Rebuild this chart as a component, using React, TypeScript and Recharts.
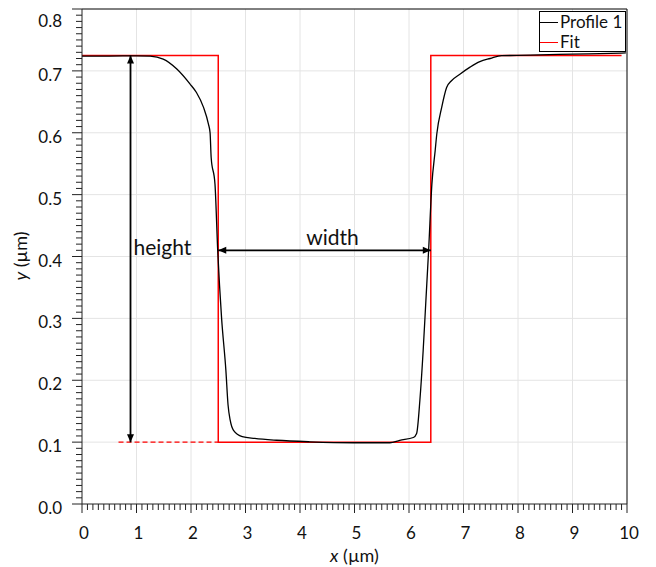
import React from 'react';
import {
  LineChart,
  Line,
  XAxis,
  YAxis,
  CartesianGrid,
  ReferenceLine,
  Legend,
} from 'recharts';

// profile (x in µm, y in µm)
const profileX = [
  0, 0.5, 1.0, 1.25, 1.49, 1.74, 1.98, 2.1, 2.23, 2.32, 2.35, 2.37, 2.44, 2.49, 2.56,
  2.64, 2.68, 2.72, 2.78, 2.94, 3.17, 3.57, 4.18, 4.98, 5.65, 5.83, 6.08, 6.14, 6.2,
  6.26, 6.31, 6.36, 6.42, 6.48, 6.51, 6.6, 6.69, 6.78, 6.94, 7.12, 7.3, 7.49, 7.7,
  7.98, 8.4, 9.0, 9.5, 9.98,
];
const profileY = [
  0.724, 0.724, 0.7242, 0.7237, 0.719, 0.703, 0.679, 0.665, 0.641, 0.614, 0.6, 0.56,
  0.517, 0.41, 0.302, 0.216, 0.16, 0.135, 0.119, 0.109, 0.106, 0.103, 0.1005, 0.099,
  0.099, 0.103, 0.1075, 0.114, 0.168, 0.248, 0.329, 0.41, 0.517, 0.571, 0.598, 0.641,
  0.673, 0.684, 0.695, 0.706, 0.715, 0.72, 0.7247, 0.725, 0.726, 0.727, 0.728, 0.729,
];

// rectangular fit
const fitX = [0, 2.5, 2.5, 6.4, 6.4, 9.9];
const fitY = [0.725, 0.725, 0.1, 0.1, 0.725, 0.725];

const seriesNames = ['Profile 1', 'Fit'];

const xMajorTicks = [0, 1, 2, 3, 4, 5, 6, 7, 8, 9, 10];
const yMajorTicks = [0, 0.1, 0.2, 0.3, 0.4, 0.5, 0.6, 0.7, 0.8];
const xMinorStep = 0.1;
const yMinorStep = 0.01;

// annotation arrows, in data units
const heightArrow = { x: 0.89, yTop: 0.725, yBottom: 0.1 };
const widthArrow = { y: 0.41, xLeft: 2.5, xRight: 6.4 };
const baseGuide = { xStart: 0.67, xEnd: 2.5, y: 0.1 };

const profileData = profileX.map((x, i) => ({ x, y: profileY[i] }));
const fitData = fitX.map((x, i) => ({ x, y: fitY[i] }));

const xTicksAll = Array.from({ length: 101 }, (_, i) => Math.round(i * xMinorStep * 10) / 10);
const yTicksAll = Array.from({ length: 81 }, (_, i) => Math.round(i * yMinorStep * 100) / 100);

const FONT = 'Lato, "Open Sans", sans-serif';
const AXIS = '#222';

const isMajor = (v: number, list: number[]) => list.some(m => Math.abs(m - v) < 1e-6);

const XTick = (props: any) => {
  const { x, y, payload } = props;
  const major = isMajor(payload.value, xMajorTicks);
  return (
    <g>
      <line x1={x} y1={y} x2={x} y2={y + (major ? 9 : 6)} stroke={AXIS} strokeWidth={1} />
      {major && (
        <text x={x + 2} y={y + 35} textAnchor="middle" fontFamily={FONT} fontSize={17} fill="#111">
          {payload.value}
        </text>
      )}
    </g>
  );
};

const YTick = (props: any) => {
  const { x, y, payload } = props;
  const major = isMajor(payload.value, yMajorTicks);
  const top = Math.abs(payload.value - 0.8) < 1e-6;
  return (
    <g>
      <line x1={x - (major ? 10 : 6)} y1={y} x2={x} y2={y} stroke={AXIS} strokeWidth={1} />
      {major && (
        <text x={x - 20} y={y + (top ? 18 : 10)} textAnchor="end" fontFamily={FONT} fontSize={17} fill="#111">
          {payload.value.toFixed(1)}
        </text>
      )}
    </g>
  );
};

const XTitle = (props: any) => {
  const { viewBox } = props;
  return (
    <text x={viewBox.x + viewBox.width / 2} y={viewBox.y + 58} textAnchor="middle" fontFamily={FONT} fontSize={18} fill="#111">
      <tspan fontStyle="italic">x</tspan> (µm)
    </text>
  );
};

const YTitle = () => (
  <text x={0} y={0} transform="translate(27,256) rotate(-90)" textAnchor="middle" fontFamily={FONT} fontSize={18} fill="#111">
    <tspan fontStyle="italic">y</tspan> (µm)
  </text>
);

function arrowHead(tx: number, ty: number, fx: number, fy: number) {
  const len = 8;
  const half = 3.5;
  const a = Math.atan2(ty - fy, tx - fx);
  const bx = tx - len * Math.cos(a);
  const by = ty - len * Math.sin(a);
  const px = -Math.sin(a) * half;
  const py = Math.cos(a) * half;
  return `${tx},${ty} ${bx + px},${by + py} ${bx - px},${by - py}`;
}

const makeArrow = (text: string, dx: number, dy: number, anchor: string) => (p: any) => {
  const { x1, y1, x2, y2 } = p;
  const mx = (x1 + x2) / 2;
  const my = (y1 + y2) / 2;
  return (
    <g>
      <line x1={x1} y1={y1} x2={x2} y2={y2} stroke="#000" strokeWidth={1.8} />
      <polygon points={arrowHead(x1, y1, x2, y2)} fill="#000" />
      <polygon points={arrowHead(x2, y2, x1, y1)} fill="#000" />
      <text x={mx + dx} y={my + dy} textAnchor={anchor} fontFamily={FONT} fontSize={21} fill="#111">
        {text}
      </text>
    </g>
  );
};

const LegendBox = (props: any) => {
  const items = (props.payload || [])
    .filter((e: any) => seriesNames.includes(e.value))
    .sort((a: any, b: any) => seriesNames.indexOf(a.value) - seriesNames.indexOf(b.value));
  return (
    <div
      style={{
        width: 87,
        height: 41,
        boxSizing: 'border-box',
        border: '1px solid #000',
        background: '#fff',
        fontFamily: FONT,
        fontSize: 17,
        color: '#111',
      }}
    >
      {items.map((e: any) => (
        <div key={e.value} style={{ display: 'flex', alignItems: 'center', height: 20 }}>
          <span style={{ display: 'inline-block', width: 18, borderTop: `1.5px solid ${e.color}`, marginRight: 2 }} />
          <span style={{ lineHeight: '20px' }}>{e.value}</span>
        </div>
      ))}
    </div>
  );
};

export default function App() {
  return (
    <div style={{ position: 'absolute', left: 0, top: 0 }}>
      <LineChart width={656} height={567} margin={{ top: 9, right: 29, left: 0, bottom: 0 }}>
        <CartesianGrid
          stroke="#e4e4e4"
          horizontalValues={yMajorTicks.slice(1, -1)}
          verticalValues={xMajorTicks.slice(1, -1)}
          syncWithTicks={false}
        />
        <XAxis
          type="number"
          dataKey="x"
          domain={[0, 10]}
          ticks={xTicksAll}
          interval={0}
          tickSize={0}
          tickMargin={0}
          tickLine={false}
          tick={<XTick />}
          height={63}
          axisLine={{ stroke: AXIS }}
          allowDataOverflow
          label={<XTitle />}
        />
        <YAxis
          type="number"
          dataKey="y"
          domain={[0, 0.8]}
          ticks={yTicksAll}
          interval={0}
          tickSize={0}
          tickMargin={0}
          tickLine={false}
          tick={<YTick />}
          width={82}
          axisLine={{ stroke: AXIS }}
          allowDataOverflow
          label={<YTitle />}
        />
        <ReferenceLine y={0.8} stroke="#000" />
        <ReferenceLine x={10} stroke="#000" />
        <ReferenceLine
          segment={[{ x: baseGuide.xStart, y: baseGuide.y }, { x: baseGuide.xEnd, y: baseGuide.y }]}
          stroke="#ff0000"
          strokeWidth={1.3}
          strokeDasharray="5 3"
        />
        <Line
          data={fitData}
          dataKey="y"
          name="Fit"
          type="linear"
          stroke="#ff0000"
          strokeWidth={1.5}
          dot={false}
          activeDot={false}
          isAnimationActive={false}
        />
        <Line
          data={profileData}
          dataKey="y"
          name="Profile 1"
          type="monotone"
          stroke="#000"
          strokeWidth={1.3}
          dot={false}
          activeDot={false}
          isAnimationActive={false}
        />
        <ReferenceLine
          segment={[{ x: heightArrow.x, y: heightArrow.yTop }, { x: heightArrow.x, y: heightArrow.yBottom }]}
          shape={makeArrow('height', 3, 6, 'start')}
        />
        <ReferenceLine
          segment={[{ x: widthArrow.xLeft, y: widthArrow.y }, { x: widthArrow.xRight, y: widthArrow.y }]}
          shape={makeArrow('width', 8, -5, 'middle')}
        />
        <Legend
          content={<LegendBox />}
          layout="horizontal"
          align="center"
          verticalAlign="middle"
          wrapperStyle={{ left: 539, top: 11, width: 87, height: 41 }}
        />
      </LineChart>
    </div>
  );
}
